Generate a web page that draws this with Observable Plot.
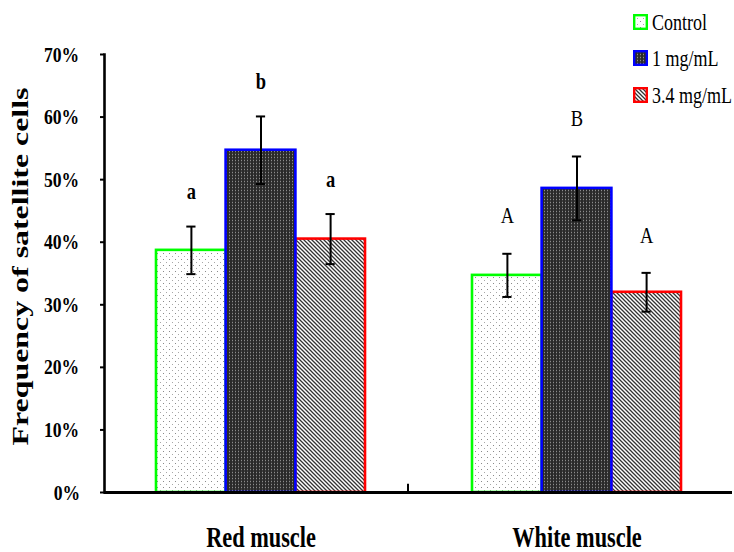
<!DOCTYPE html>
<html>
<head>
<meta charset="utf-8">
<script src="https://cdn.jsdelivr.net/npm/d3@7"></script>
<script src="https://cdn.jsdelivr.net/npm/@observablehq/plot@0.6"></script>
<style>
  html, body { margin: 0; padding: 0; background: #fff; }
  #wrap { position: relative; width: 734px; height: 552px; overflow: hidden; font-family: "Liberation Serif", "Times New Roman", serif; }
  #legend { position: absolute; left: 633px; top: 0; }
  .lg-row { position: absolute; left: 0; height: 16px; white-space: nowrap; }
  .lg-row svg { position: absolute; left: 0; top: 0; }
  .lg-row span { position: absolute; left: 19px; top: -6px; font-size: 18px; line-height: 28px; display: inline-block; transform: scaleY(1.25); transform-origin: 50% 50%; color: #000; }
</style>
</head>
<body>
<svg width="0" height="0" style="position:absolute">
  <defs>
    <pattern id="patDots" width="6" height="6" patternUnits="userSpaceOnUse">
      <rect width="6" height="6" fill="#ffffff"/>
      <rect x="1" y="1" width="1" height="1" fill="#8a8a8a"/>
      <rect x="4" y="4" width="1" height="1" fill="#a8a8a8"/>
    </pattern>
    <pattern id="patDense" width="3" height="3" patternUnits="userSpaceOnUse">
      <rect width="3" height="3" fill="#2a2a2a"/>
      <rect x="1" y="0" width="1" height="3" fill="#404040"/>
      <rect x="1" y="1" width="1" height="1" fill="#8c8c8c"/>
    </pattern>
    <pattern id="patHatch" width="4" height="4" patternUnits="userSpaceOnUse">
      <rect width="4" height="4" fill="#ffffff"/>
      <path d="M-1,-1 L5,5 M-1,3 L1,5 M3,-1 L5,1" stroke="#333" stroke-width="1.3"/>
    </pattern>
  </defs>
</svg>
<div id="wrap">
  <div id="chart"></div>
  <div id="legend"></div>
</div>
<script>
// ---- data ----
const groups = ["Red muscle", "White muscle"];
const treatments = ["Control", "1 mg/mL", "3.4 mg/mL"];
const redMeans = [38.7, 54.7, 40.5];
const redSD = [3.8, 5.4, 4.0];
const whiteMeans = [34.7, 48.6, 32.0];
const whiteSD = [3.45, 5.1, 3.1];
const redLetters = ["a", "b", "a"];
const whiteLetters = ["A", "B", "A"];
const yTicks = [0, 10, 20, 30, 40, 50, 60, 70];
const yTitle = "Frequency of satellite cells";

// ---- styles ----
const strokes = ["#00ff00", "#0000ff", "#ff0000"];
const fills = ["url(#patDots)", "url(#patDense)", "url(#patHatch)"];
const BW = 69.6;      // width of one bar in px within a group band
const CAP = 9;        // error-bar cap width

const rows = groups.flatMap((g, gi) => treatments.map((t, ti) => ({
  group: g,
  treatment: t,
  ti,
  mean: gi === 0 ? redMeans[ti] : whiteMeans[ti],
  sd: gi === 0 ? redSD[ti] : whiteSD[ti],
  letter: gi === 0 ? redLetters[ti] : whiteLetters[ti]
})));

const marks = [];
[0, 2, 1].forEach(i => {
  const data = rows.filter(d => d.ti === i);
  marks.push(Plot.barY(data, {
    x: "group", y: "mean",
    fill: fills[i], stroke: strokes[i], strokeWidth: 2.6,
    insetLeft: i * BW, insetRight: (2 - i) * BW
  }));
});
treatments.forEach((t, i) => {
  const data = rows.filter(d => d.ti === i);
  const off = (i - 1) * BW;
  const capInset = (3 * BW - CAP) / 2;
  marks.push(Plot.ruleX(data, {x: "group", y1: d => d.mean - d.sd, y2: d => d.mean + d.sd, dx: off, stroke: "#000", strokeWidth: 2}));
  marks.push(Plot.tickY(data, {x: "group", y: d => d.mean + d.sd, dx: off, insetLeft: capInset, insetRight: capInset, stroke: "#000", strokeWidth: 2}));
  marks.push(Plot.tickY(data, {x: "group", y: d => d.mean - d.sd, dx: off, insetLeft: capInset, insetRight: capInset, stroke: "#000", strokeWidth: 2}));
  marks.push(Plot.text(data.filter(d => d.group === groups[0]), {x: "group", y: d => d.mean + d.sd, text: "letter", dx: off, dy: -35, fontSize: 24, fontWeight: "bold", fill: "#000"}));
  marks.push(Plot.text(data.filter(d => d.group === groups[1]), {x: "group", y: d => d.mean + d.sd, text: "letter", dx: off, dy: -38, fontSize: 24, fontWeight: "normal", fill: "#000"}));
});

const chart = Plot.plot({
  width: 734,
  height: 552,
  marginLeft: 104,
  marginRight: 2,
  marginTop: 54,
  marginBottom: 60,
  style: {fontFamily: "Liberation Serif, Times New Roman, serif", background: "#fff", color: "#000", overflow: "visible"},
  x: {type: "band", domain: groups, paddingInner: 0.339, paddingOuter: 0.163},
  y: {domain: [0, 70]},
  marks: [
    ...marks,
    Plot.axisY({ticks: yTicks, tickFormat: d => d + "%", tickSize: 4, tickPadding: 17, fontSize: 22, fontWeight: "bold", strokeWidth: 2, label: null}),
    Plot.axisX({tickSize: 0, tickPadding: 34, fontSize: 29, fontWeight: "bold", label: null}),
    Plot.frame({anchor: "left", stroke: "#000", strokeWidth: 2.6}),
    Plot.ruleY([0], {stroke: "#000", strokeWidth: 3}),
    Plot.ruleX([groups[0]], {y1: 0, y2: 1.3, dx: 147, stroke: "#000", strokeWidth: 2}),
    Plot.text([yTitle], {frameAnchor: "left", rotate: -90, dx: -84, dy: -5, fontSize: 23, fontWeight: "bold", fill: "#000"})
  ]
});
document.getElementById("chart").appendChild(chart);

// tall, narrow lettering as in the reference; keep each text centred where Plot put it
function setLength(el, len) {
  const b0 = el.getBBox();
  const c0 = b0.x + b0.width / 2;
  el.setAttribute("textLength", len.toFixed(2));
  el.setAttribute("lengthAdjust", "spacingAndGlyphs");
  const b1 = el.getBBox();
  const c1 = b1.x + b1.width / 2;
  const x = parseFloat(el.getAttribute("x") || "0");
  el.setAttribute("x", (x + c0 - c1).toFixed(2));
}
const TITLE_LEN = 358;
d3.select(chart).selectAll("text").each(function () {
  const txt = this.textContent;
  const parentLabel = this.parentNode.getAttribute("aria-label") || "";
  const L = this.getComputedTextLength();
  if (txt === yTitle) {
    // rotated title: anchor at its start so the stretched run stays centred
    this.setAttribute("text-anchor", "start");
    this.setAttribute("x", (2 - TITLE_LEN / 2).toFixed(2));
    this.setAttribute("textLength", TITLE_LEN);
    this.setAttribute("lengthAdjust", "spacingAndGlyphs");
  } else if (parentLabel.includes("y-axis")) {
    setLength(this, L / 1.25);
  } else {
    setLength(this, L / 1.3);
  }
});

// legend
const legend = document.getElementById("legend");
const rowTops = [14, 50, 87];
treatments.forEach((t, i) => {
  const row = document.createElement("div");
  row.className = "lg-row";
  row.style.top = rowTops[i] + "px";
  row.innerHTML = `<svg width="15" height="16"><rect x="1.2" y="1.2" width="12.6" height="13.6" fill="${fills[i]}" stroke="${strokes[i]}" stroke-width="2.4"/></svg><span>${t}</span>`;
  legend.appendChild(row);
});
</script>
</body>
</html>
